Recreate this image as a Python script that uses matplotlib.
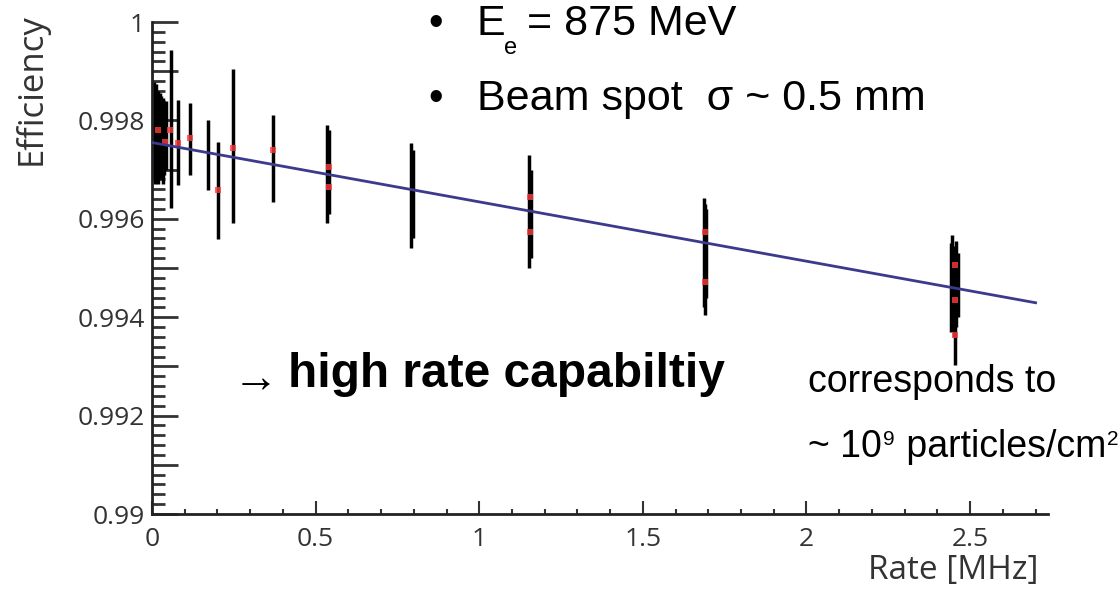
import numpy as np
import matplotlib
matplotlib.use("Agg")
import matplotlib.pyplot as plt
from matplotlib.ticker import FixedLocator, MultipleLocator, FuncFormatter

# error bars: rate [MHz], lower and upper efficiency
bar_rate = [0.003, 0.006, 0.009, 0.012, 0.015, 0.018, 0.021, 0.024,
            0.027, 0.030, 0.034, 0.038, 0.042,
            0.057, 0.080, 0.116, 0.170, 0.201, 0.249, 0.369,
            0.536, 0.541, 0.792, 0.797, 1.153, 1.157,
            1.686, 1.690, 1.694, 2.442, 2.446, 2.450, 2.454, 2.458, 2.462]
bar_lo = [0.9969, 0.9968, 0.9967, 0.9968, 0.9969, 0.9967, 0.9968, 0.9970,
          0.9969, 0.9968, 0.9967, 0.9969, 0.9970,
          0.99622, 0.99669, 0.99689, 0.99659, 0.99559, 0.99591, 0.99634,
          0.99591, 0.99610, 0.99541, 0.99560, 0.99500, 0.99520,
          0.99420, 0.99404, 0.99440, 0.99370, 0.99390, 0.99360, 0.99303, 0.99380, 0.99400]
bar_hi = [0.99870, 0.99878, 0.99860, 0.99875, 0.99850, 0.99860, 0.99845, 0.99855,
          0.99850, 0.99840, 0.99845, 0.99835, 0.99840,
          0.99943, 0.99841, 0.99835, 0.99801, 0.99756, 0.99904, 0.99811,
          0.99791, 0.99780, 0.99754, 0.99740, 0.99730, 0.99700,
          0.99642, 0.99630, 0.99620, 0.99550, 0.99567, 0.99545, 0.99540, 0.99555, 0.99530]

# mean values (red markers)
pt_rate = [0.018, 0.040, 0.055, 0.080, 0.116, 0.201, 0.249, 0.369,
           0.540, 0.540, 1.155, 1.155, 1.690, 1.690, 2.454, 2.454, 2.454]
pt_eff = [0.99780, 0.99756, 0.99780, 0.99754, 0.99764, 0.99659, 0.99744, 0.99740,
          0.99705, 0.99665, 0.99644, 0.99573, 0.99573, 0.99472, 0.99506, 0.99435, 0.99364]

# linear fit
fit_x = [0.0, 2.70]
fit_p0 = 0.99755
fit_p1 = -0.001206

W, H = 1119, 595


def fx(x):
    return x / W


def fy(y):
    return 1 - y / H


fig = plt.figure(figsize=(W / 100, H / 100), dpi=100)
ax = fig.add_axes([fx(152), fy(514), fx(1048 - 152), (514 - 22) / H])

ax.vlines(bar_rate, bar_lo, bar_hi, color='black', linewidth=2.5, zorder=2)
ax.plot(pt_rate, pt_eff, 's', color='#ff3c3c', markersize=4, alpha=0.8,
        markeredgewidth=0, zorder=3)
fx_arr = np.array(fit_x)
ax.plot(fx_arr, fit_p0 + fit_p1 * fx_arr, '-', color='#3c3a8c', linewidth=2, zorder=4)

ax.set_xlim(0, 2.738)
ax.set_ylim(0.99, 1.0)

for s in ['top', 'right']:
    ax.spines[s].set_visible(False)
for s in ['left', 'bottom']:
    ax.spines[s].set_color('#222222')
    ax.spines[s].set_linewidth(2)

ax.yaxis.set_major_locator(FixedLocator(np.arange(0.99, 1.0005, 0.001)))
ax.yaxis.set_minor_locator(MultipleLocator(0.0002))


def ylab(v, pos):
    k = int(round((v - 0.99) / 0.001))
    if k % 2:
        return ''
    return '%g' % round(v, 3)


ax.yaxis.set_major_formatter(FuncFormatter(ylab))
ax.xaxis.set_major_locator(MultipleLocator(0.5))
ax.xaxis.set_minor_locator(MultipleLocator(0.1))
ax.xaxis.set_major_formatter(FuncFormatter(lambda v, p: '%g' % v))

ax.tick_params(axis='y', which='major', direction='in', length=19, width=2,
               color='#333333', pad=5)
ax.tick_params(axis='y', which='minor', direction='in', length=9, width=2,
               color='#333333')
ax.tick_params(axis='x', which='major', direction='in', length=9.5, width=1.5,
               color='#333333', pad=9)
ax.tick_params(axis='x', which='minor', direction='in', length=3.6, width=1.5,
               color='#333333')
for lab in ax.get_xticklabels() + ax.get_yticklabels():
    lab.set_fontfamily('Open Sans')
    lab.set_fontsize(19)
    lab.set_color('#333333')

fig.text(fx(31), fy(13), 'Efficiency', rotation=90, ha='center', va='top',
         fontsize=25, family='Open Sans', color='#333333')
fig.text(fx(1038), fy(554), 'Rate [MHz]', ha='right', va='top',
         fontsize=24, family='Open Sans', color='#333333')

# slide annotations
sf = 'Liberation Sans'
fig.text(fx(436), fy(35), '•', ha='center', va='baseline', fontsize=30, family=sf)
fig.text(fx(477), fy(35), 'E', ha='left', va='baseline', fontsize=31, family=sf)
fig.text(fx(504), fy(37), 'e', ha='left', va='top', fontsize=17, family=sf)
fig.text(fx(527), fy(35), '= 875 MeV', ha='left', va='baseline', fontsize=31, family=sf)
fig.text(fx(436), fy(110), '•', ha='center', va='baseline', fontsize=30, family=sf)
fig.text(fx(477), fy(110), 'Beam spot  σ ~ 0.5 mm', ha='left', va='baseline',
         fontsize=31, family=sf)

fig.text(fx(233), fy(392), '→', ha='left', va='baseline', fontsize=33, family=sf)
fig.text(fx(288), fy(387), 'high rate capabiltiy', ha='left', va='baseline',
         fontsize=34.5, family=sf, weight='bold')

fig.text(fx(808), fy(392), 'corresponds to', ha='left', va='baseline',
         fontsize=27, family=sf)

# "~ 10^9 particles/cm^2" built piece by piece
r = fig.canvas.get_renderer()
pieces = [('~ 10', 27, 0), ('9', 15, 12), (' particles/cm', 27, 0), ('2', 15, 12)]
xpos = 808
for txt, size, lift in pieces:
    t = fig.text(fx(xpos), fy(457 + 0) + lift / H, txt, ha='left', va='baseline',
                 fontsize=size, family=sf)
    bb = t.get_window_extent(r)
    xpos = bb.x1 + 1

fig.savefig('out.png', dpi=100)
